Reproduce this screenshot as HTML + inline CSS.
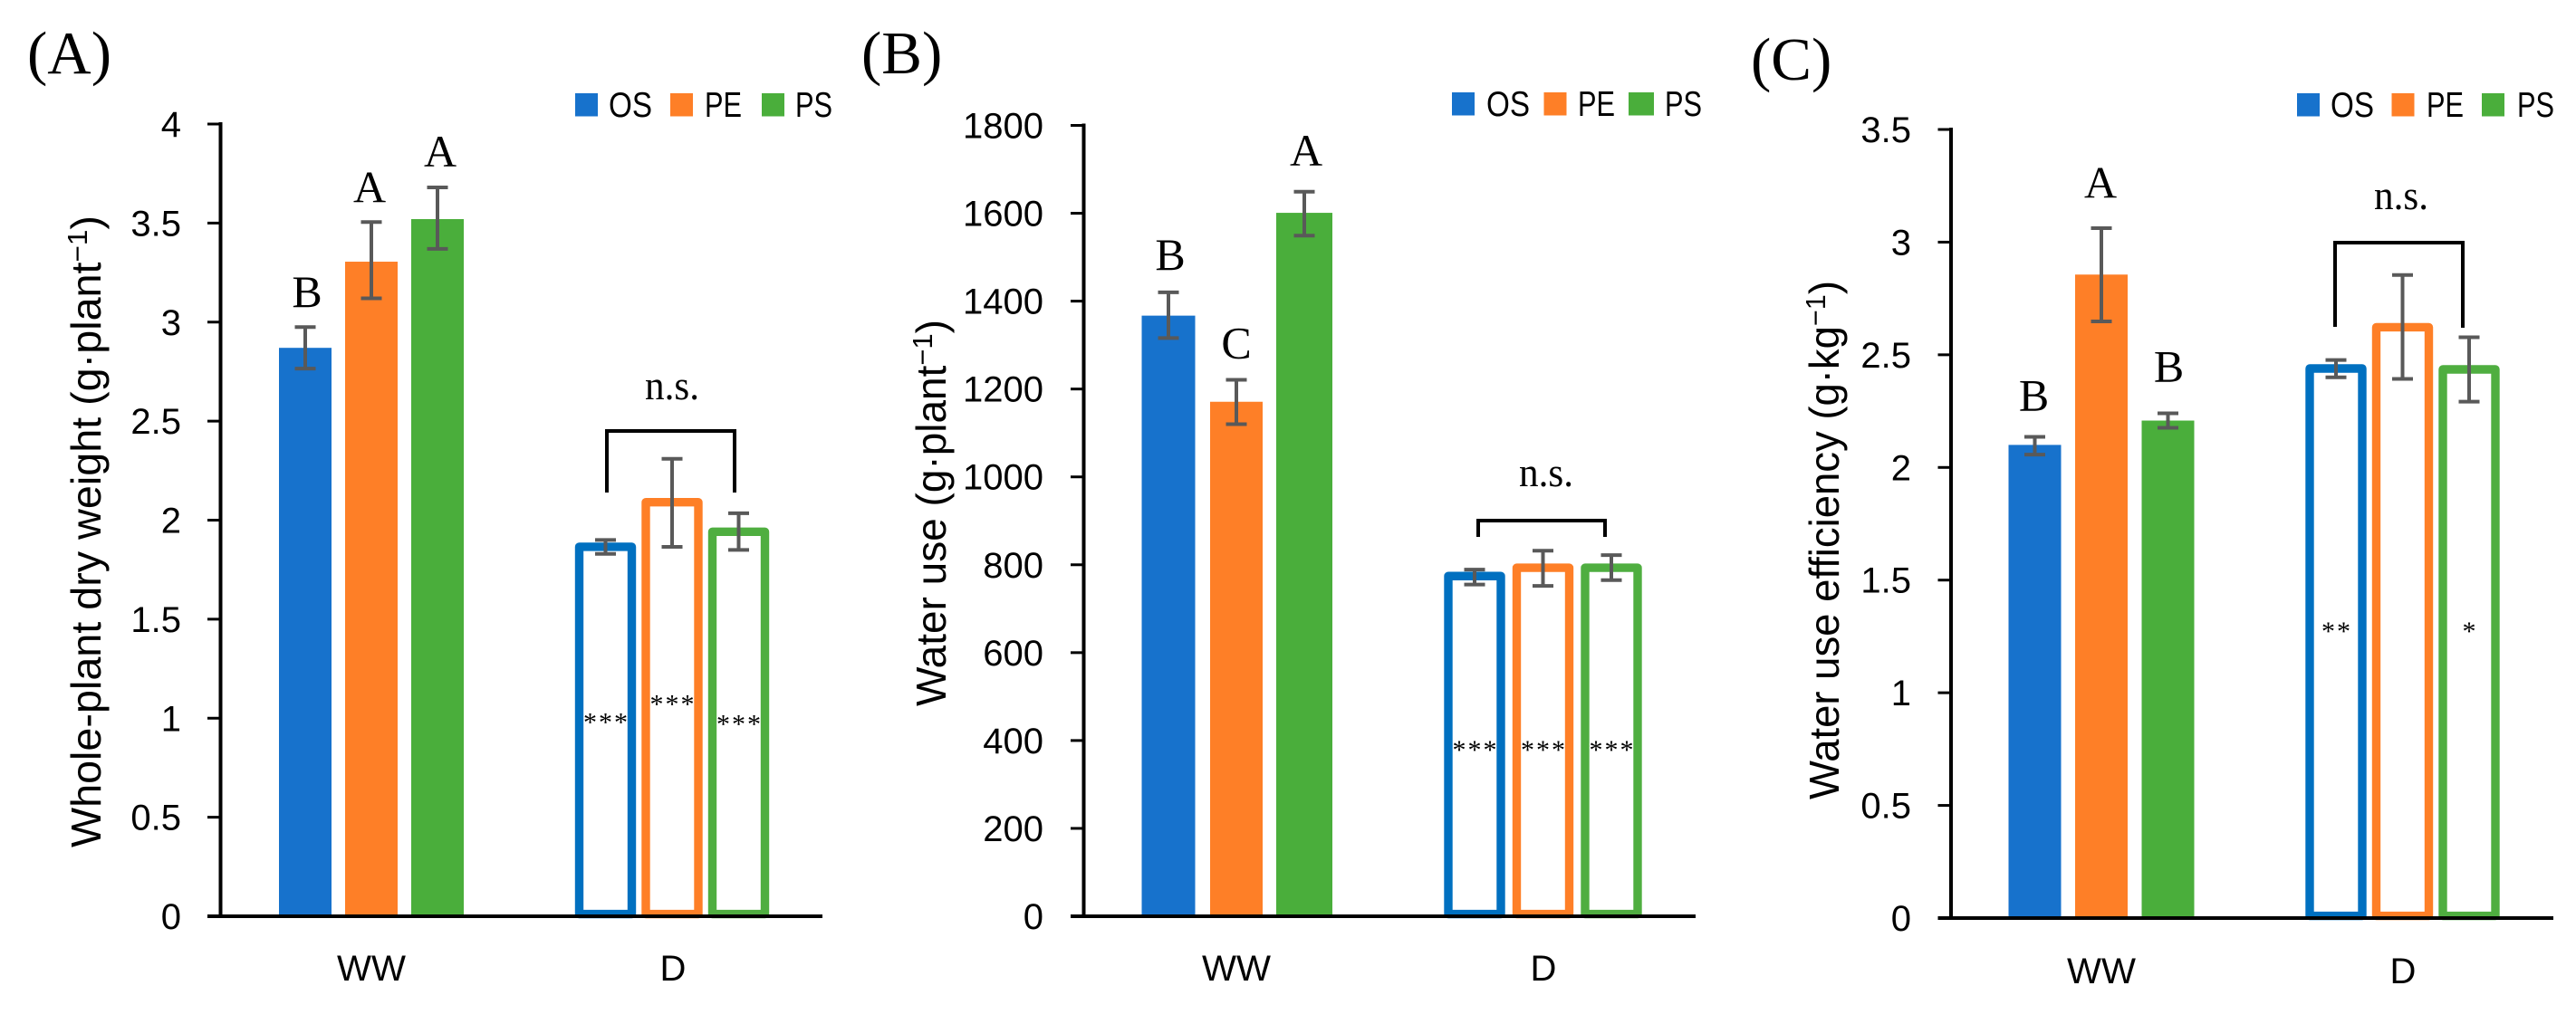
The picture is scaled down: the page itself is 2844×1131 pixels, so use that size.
<!DOCTYPE html>
<html lang="en">
<head>
<meta charset="utf-8">
<title>Whole-plant dry weight, water use and water use efficiency</title>
<style>
html,body{margin:0;padding:0;background:#fff;}
#figure{display:block;width:2844px;height:1131px;background:#fff;}
text{fill:#000;}
.sans{font-family:"Liberation Sans",sans-serif;}
.serif{font-family:"Liberation Serif",serif;}
</style>
</head>
<body>
<svg id="figure" xmlns="http://www.w3.org/2000/svg" width="2844" height="1131" viewBox="0 0 2844 1131"></svg>
<script>
// ---- shared categories ----
const groupLabels = ['WW', 'D'];
const seriesLabels = ['OS', 'PE', 'PS'];

// ---- panel A: whole-plant dry weight ----
const aTicks = ['0', '0.5', '1', '1.5', '2', '2.5', '3', '3.5', '4'];
const aValuesWW = [2.87, 3.305, 3.52];
const aValuesD = [1.887, 2.112, 1.963];
const aHighWW = [2.975, 3.505, 3.68];
const aHighD = [1.90, 2.31, 2.035];
const aLowWW = [2.765, 3.12, 3.37];
const aLowD = [1.83, 1.865, 1.85];
const aLettersWW = ['B', 'A', 'A'];
const aStars = ['***', '***', '***'];
const aStarValues = [0.995, 1.085, 0.985];

// ---- panel B: water use ----
const bTicks = ['0', '200', '400', '600', '800', '1000', '1200', '1400', '1600', '1800'];
const bValuesWW = [1367, 1171, 1601];
const bValuesD = [784, 803, 803];
const bHighWW = [1420, 1221, 1649];
const bHighD = [789, 832, 822];
const bLowWW = [1316, 1120, 1549];
const bLowD = [755, 752, 765];
const bLettersWW = ['B', 'C', 'A'];
const bStars = ['***', '***', '***'];
const bStarValues = [385, 385, 385];

// ---- panel C: water use efficiency ----
const cTicks = ['0', '0.5', '1', '1.5', '2', '2.5', '3', '3.5'];
const cValuesWW = [2.10, 2.856, 2.208];
const cValuesD = [2.458, 2.641, 2.454];
const cHighWW = [2.136, 3.062, 2.24];
const cHighD = [2.477, 2.854, 2.578];
const cLowWW = [2.057, 2.648, 2.176];
const cLowD = [2.40, 2.393, 2.292];
const cLettersWW = ['B', 'A', 'B'];
const cStars = ['**', '', '*'];
const cStarValues = [1.286, 1.286, 1.286];

const fillColors = ['#1772cc', '#fe7f27', '#4aae3b'];
const strokeColors = ['#0070c0', '#fe7f27', '#4fae40'];

const panels = [
  {key:'a', tag:'(A)', tagX:30, tagY:81, title:'Whole-plant dry weight (g·plant', sup:'−1', titleX:111, titleY:936, titleLen:698,
   ticks:aTicks, yMax:4, ww:[aValuesWW,aHighWW,aLowWW], d:[aValuesD,aHighD,aLowD], letters:aLettersWW, stars:aStars, starValues:aStarValues,
   axisX:243.5, top:137, zero:1012, right:908, tickLeft:229, tickRight:200, groupX:[410,742], step:[73,73.5], barW:[58,58,58],
   letterGap:[22,22,23], letterDx:[2,-2,3], bracket:[670,811,476,544,544], nsY:441, nsX:742,
   legend:[[635,672,25],[740,778,25],[841,878,25]], legendY:103, labelY:1083, xLabelX:[410,743]},
  {key:'b', tag:'(B)', tagX:951, tagY:81, title:'Water use (g·plant', sup:'−1', titleX:1044, titleY:780, titleLen:427,
   ticks:bTicks, yMax:1800, ww:[bValuesWW,bHighWW,bLowWW], d:[bValuesD,bHighD,bLowD], letters:bLettersWW, stars:bStars, starValues:bStarValues,
   axisX:1196.5, top:138.5, zero:1012, right:1872, tickLeft:1182, tickRight:1152, groupX:[1365,1703.5], step:[75,75.5], barW:[59,58,62],
   letterGap:[24.7,24,28.7], letterDx:[2,0,2], bracket:[1632,1772,575,593,593], nsY:537, nsX:1707,
   legend:[[1603,1641,25],[1704.5,1742,25],[1798,1838,28]], legendY:102, labelY:1083, xLabelX:[1365,1704]},
  {key:'c', tag:'(C)', tagX:1933, tagY:88, title:'Water use efficiency (g·kg', sup:'−1', titleX:2030, titleY:883, titleLen:573,
   ticks:cTicks, yMax:3.5, ww:[cValuesWW,cHighWW,cLowWW], d:[cValuesD,cHighD,cLowD], letters:cLettersWW, stars:cStars, starValues:cStarValues,
   axisX:2154, top:143, zero:1014, right:2819, tickLeft:2139.5, tickRight:2110, groupX:[2320,2652.5], step:[73.5,73.5], barW:[58,58,58],
   letterGap:[29,33.7,35], letterDx:[-1,-1,1], bracket:[2578,2719,268,361,362], nsY:231, nsX:2651,
   legend:[[2536,2573,25],[2640.5,2679,25],[2740,2779,25]], legendY:103, labelY:1086, xLabelX:[2320,2653]}
];

const SVG_NS = 'http://www.w3.org/2000/svg';
const root = document.getElementById('figure');

function make(parent, tag, props) {
  const el = document.createElementNS(SVG_NS, tag);
  for (const k in props) el.setAttribute(k, props[k]);
  parent.appendChild(el);
  return el;
}

function yScale(p, v) {
  return p.zero - (v / p.yMax) * (p.zero - p.top);
}
function xScale(p, g, s) {
  return p.groupX[g] + (s - 1) * p.step[g];
}

panels.forEach(function (p) {
  const g = make(root, 'g', {});
  
  

  const tag = make(g, 'text', {x:p.tagX, y:p.tagY, class:'serif', 'font-size':67});
  tag.textContent = p.tag;
  
  

  // y axis title
  const yTitle = make(g, 'text', {x:p.titleX, y:p.titleY, class:'sans', 'font-size':46,
    transform:'rotate(-90 ' + p.titleX + ' ' + p.titleY + ')',
    textLength:p.titleLen, lengthAdjust:'spacingAndGlyphs'});
  
  
  yTitle.appendChild(document.createTextNode(p.title));
  const sup = make(yTitle, 'tspan', {dy:-15, 'font-size':31});
  sup.textContent = p.sup;
  const close = make(yTitle, 'tspan', {dy:15});
  close.textContent = ')';

  // bars, well-watered (filled)
  seriesLabels.forEach(function (name, s) {
    const cx = xScale(p, 0, s);
    const top = yScale(p, p.ww[0][s]);
    const w = p.barW[s];
    const bar = make(g, 'rect', {x:cx - w / 2, y:top, width:w, height:p.zero - top, fill:fillColors[s]});
    
    
  });

  // bars, drought (hollow)
  seriesLabels.forEach(function (name, s) {
    const cx = xScale(p, 1, s);
    const top = yScale(p, p.d[0][s]);
    const bar = make(g, 'rect', {x:cx - 29, y:top + 4.7, width:58, height:p.zero - top - 7.1,
      fill:'#fff', stroke:strokeColors[s], 'stroke-width':9.4, 'stroke-linejoin':'round'});
    
    
  });

  // axes
  const yAxis = make(g, 'line', {x1:p.axisX, x2:p.axisX, y1:p.top - 2, y2:p.zero + 2, stroke:'#000', 'stroke-width':4});
  
  
  const xAxis = make(g, 'line', {x1:p.tickLeft, x2:p.right, y1:p.zero, y2:p.zero, stroke:'#000', 'stroke-width':4});
  
  

  // ticks
  p.ticks.forEach(function (label) {
    const y = yScale(p, parseFloat(label));
    const mark = make(g, 'line', {x1:p.tickLeft, x2:p.axisX, y1:y, y2:y, stroke:'#000', 'stroke-width':3});
    
    
    const t = make(g, 'text', {x:p.tickRight, y:y + 14, class:'sans', 'font-size':40, 'text-anchor':'end'});
    t.textContent = label;
    
    
  });

  // error bars
  [p.ww, p.d].forEach(function (set, gi) {
    seriesLabels.forEach(function (name, s) {
      const cx = xScale(p, gi, s);
      const hi = yScale(p, set[1][s]);
      const lo = yScale(p, set[2][s]);
      const err = make(g, 'path', {
        d:'M' + (cx - 11.5) + ' ' + hi + 'H' + (cx + 11.5) + 'M' + cx + ' ' + hi + 'V' + lo + 'M' + (cx - 11.5) + ' ' + lo + 'H' + (cx + 11.5),
        fill:'none', stroke:'#595959', 'stroke-width':4});
      
      
    });
  });

  // significance letters
  p.letters.forEach(function (letter, s) {
    const t = make(g, 'text', {x:xScale(p, 0, s) + p.letterDx[s], y:yScale(p, p.ww[1][s]) - p.letterGap[s],
      class:'serif', 'font-size':50, 'text-anchor':'middle'});
    t.textContent = letter;
    
    
  });

  // stars inside drought bars
  p.stars.forEach(function (mark, s) {
    if (!mark) return;
    const t = make(g, 'text', {x:xScale(p, 1, s) + 1, y:yScale(p, p.starValues[s]) + 13,
      class:'serif', 'font-size':30, 'text-anchor':'middle', fill:'#222', 'letter-spacing':2});
    t.textContent = mark;
    
    
  });

  // n.s. bracket
  const b = p.bracket;
  const bracket = make(g, 'path', {d:'M' + b[0] + ' ' + b[3] + 'V' + b[2] + 'H' + b[1] + 'V' + b[4], fill:'none', stroke:'#000', 'stroke-width':4});
  
  
  const ns = make(g, 'text', {x:p.nsX, y:p.nsY, class:'serif', 'font-size':46, 'text-anchor':'middle', textLength:60, lengthAdjust:'spacingAndGlyphs'});
  ns.textContent = 'n.s.';
  
  

  // x labels
  groupLabels.forEach(function (label, gi) {
    const t = make(g, 'text', {x:p.xLabelX[gi], y:p.labelY, class:'sans', 'font-size':40, 'text-anchor':'middle'});
    if (label.length > 1) {
      t.setAttribute('textLength', 76);
      t.setAttribute('lengthAdjust', 'spacingAndGlyphs');
    }
    t.textContent = label;
    
    
  });

  // legend
  seriesLabels.forEach(function (name, s) {
    const pos = p.legend[s];
    const swatch = make(g, 'rect', {x:pos[0], y:p.legendY, width:pos[2], height:25.5, fill:fillColors[s]});
    
    
    const t = make(g, 'text', {x:pos[1], y:p.legendY + 26, class:'sans', 'font-size':39, textLength:s === 0 ? 48 : 41, lengthAdjust:'spacingAndGlyphs'});
    t.textContent = name;
    
    
  });
});
</script>
</body>
</html>
